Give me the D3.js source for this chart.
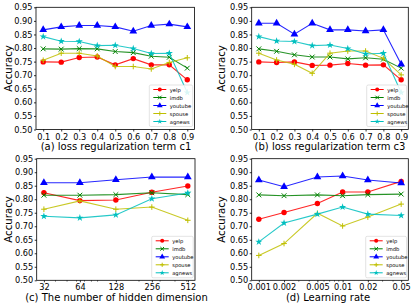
<!DOCTYPE html>
<html><head><meta charset="utf-8">
<script src="https://cdn.jsdelivr.net/npm/d3@7"></script>
<style>html,body{margin:0;padding:0;background:#fff}svg{display:block}</style>
</head><body>
<svg id="chart" width="419" height="307"></svg>
<script>
// ---------- data ----------
const seriesNames = ["yelp", "imdb", "youtube", "spouse", "agnews"];
const yTicks = [0.50, 0.55, 0.60, 0.65, 0.70, 0.75, 0.80, 0.85, 0.90, 0.95];

// (a) loss regularization term c1
const aX = [0.1, 0.2, 0.3, 0.4, 0.5, 0.6, 0.7, 0.8, 0.9];
const aYelp    = [0.749, 0.748, 0.765, 0.767, 0.738, 0.761, 0.738, 0.738, 0.683];
const aImdb    = [0.797, 0.796, 0.798, 0.797, 0.787, 0.783, 0.770, 0.766, 0.726];
const aYoutube = [0.867, 0.878, 0.883, 0.883, 0.878, 0.862, 0.883, 0.888, 0.878];
const aSpouse  = [0.755, 0.781, 0.781, 0.771, 0.732, 0.732, 0.723, 0.747, 0.764];
const aAgnews  = [0.842, 0.825, 0.824, 0.809, 0.810, 0.798, 0.780, 0.781, 0.636];

// (b) loss regularization term c3
const bX = [0.1, 0.2, 0.3, 0.4, 0.5, 0.6, 0.7, 0.8, 0.9];
const bYelp    = [0.749, 0.747, 0.749, 0.736, 0.737, 0.743, 0.737, 0.738, 0.683];
const bImdb    = [0.797, 0.788, 0.775, 0.767, 0.767, 0.760, 0.764, 0.759, 0.726];
const bYoutube = [0.891, 0.891, 0.851, 0.891, 0.867, 0.867, 0.863, 0.867, 0.740];
const bSpouse  = [0.781, 0.756, 0.740, 0.707, 0.781, 0.789, 0.789, 0.762, 0.701];
const bAgnews  = [0.842, 0.826, 0.824, 0.809, 0.811, 0.798, 0.778, 0.781, 0.636];

// (c) number of hidden dimension
const cX = [32, 64, 128, 256, 512];
const cYelp    = [0.824, 0.795, 0.797, 0.826, 0.849];
const cImdb    = [0.815, 0.815, 0.817, 0.824, 0.817];
const cYoutube = [0.861, 0.861, 0.872, 0.882, 0.882];
const cSpouse  = [0.763, 0.794, 0.763, 0.771, 0.722];
const cAgnews  = [0.737, 0.731, 0.742, 0.802, 0.823];

// (d) learning rate
const dX = [0.001, 0.002, 0.005, 0.01, 0.02, 0.05];
const dXLabels = ["0.001", "0.002", "0.005", "0.01", "0.02", "0.05"];
const dYelp    = [0.726, 0.751, 0.784, 0.827, 0.827, 0.866];
const dImdb    = [0.816, 0.813, 0.816, 0.813, 0.817, 0.819];
const dYoutube = [0.871, 0.846, 0.882, 0.886, 0.871, 0.860];
const dSpouse  = [0.592, 0.636, 0.748, 0.701, 0.734, 0.782];
const dAgnews  = [0.642, 0.712, 0.745, 0.771, 0.745, 0.740];

// ---------- styling ----------
const colors = {yelp: "#ff0000", imdb: "#008000", youtube: "#0000ff", spouse: "#bfbf00", agnews: "#00bfbf"};
const markers = {yelp: "circle", imdb: "x", youtube: "triangle", spouse: "plus", agnews: "star"};
const FONT = "DejaVu Sans, sans-serif";
const TICK_FS = 8.2;
const svg = d3.select("#chart");

function drawMarker(g, type, color, x, y, s) {
  if (type === "circle") {
    g.append("circle").attr("cx", x).attr("cy", y).attr("r", 2.7 * s).attr("fill", color);
  } else if (type === "triangle") {
    g.append("path").attr("d", d3.symbol(d3.symbolTriangle, 26 * s * s)()).attr("transform", `translate(${x},${y})`).attr("fill", color);
  } else if (type === "star") {
    g.append("path").attr("d", d3.symbol(d3.symbolStar, 16 * s * s)()).attr("transform", `translate(${x},${y})`).attr("fill", color);
  } else if (type === "x") {
    const r = 2.4 * s;
    g.append("path").attr("d", `M${x - r},${y - r}L${x + r},${y + r}M${x - r},${y + r}L${x + r},${y - r}`).attr("stroke", color).attr("stroke-width", 1).attr("fill", "none");
  } else if (type === "plus") {
    const r = 2.8 * s;
    g.append("path").attr("d", `M${x - r},${y}L${x + r},${y}M${x},${y - r}L${x},${y + r}`).attr("stroke", color).attr("stroke-width", 1).attr("fill", "none");
  }
}

function panel(cfg) {
  const {L, R, T, B} = cfg;
  const g = svg.append("g");
  const x = cfg.xScale.range([L, R]);
  const y = d3.scaleLinear().domain([0.50, 0.95]).range([B, T]);

  // lines + markers
  seriesNames.forEach((name, i) => {
    const vals = cfg.values[i];
    const pts = cfg.xs.map((xv, j) => [x(xv), y(vals[j])]);
    g.append("path").attr("d", d3.line()(pts)).attr("fill", "none")
      .attr("stroke", colors[name]).attr("stroke-width", 1.1).attr("stroke-opacity", 0.85);
    pts.forEach(p => drawMarker(g, markers[name], colors[name], p[0], p[1], 1));
  });

  // frame
  g.append("rect").attr("x", L).attr("y", T).attr("width", R - L).attr("height", B - T)
    .attr("fill", "none").attr("stroke", "#000").attr("stroke-width", 0.8);

  // y axis
  const ya = g.append("g").attr("transform", `translate(${L},0)`)
    .call(d3.axisLeft(y).tickValues(yTicks).tickFormat(d3.format(".2f")).tickSize(2).tickPadding(1.5));
  ya.select(".domain").remove();
  ya.selectAll("text").attr("font-family", FONT).attr("font-size", TICK_FS).attr("fill", "#000");
  ya.selectAll("line").attr("stroke", "#000").attr("stroke-width", 0.8);

  // x axis
  const xa = g.append("g").attr("transform", `translate(0,${B})`)
    .call(d3.axisBottom(x).tickValues(cfg.xs).tickFormat((d, i) => cfg.xLabels[i]).tickSize(2).tickPadding(2.2));
  xa.select(".domain").remove();
  xa.selectAll("text").attr("font-family", FONT).attr("font-size", TICK_FS).attr("fill", "#000");
  xa.selectAll("line").attr("stroke", "#000").attr("stroke-width", 0.8);
  if (cfg.minor) {
    g.append("g").selectAll("line").data(cfg.minor).join("line")
      .attr("x1", d => x(d)).attr("x2", d => x(d)).attr("y1", B).attr("y2", B + 1.3)
      .attr("stroke", "#000").attr("stroke-width", 0.6);
  }

  // y label
  g.append("text").attr("transform", `translate(${cfg.yLabelX},${(T + B) / 2}) rotate(-90)`)
    .attr("text-anchor", "middle").attr("dominant-baseline", "central")
    .attr("font-family", FONT).attr("font-size", 10.2).text("Accuracy");

  // title
  g.append("text").attr("x", cfg.titleX).attr("y", B + 20.5).attr("text-anchor", "middle")
    .attr("font-family", FONT).attr("font-size", 10).text(cfg.title);

  // legend
  const lx = cfg.legX, ly = cfg.legY, lw = R - 1.8 - lx, lh = 41.5;
  const lg = g.append("g");
  lg.append("rect").attr("x", lx).attr("y", ly).attr("width", lw).attr("height", lh)
    .attr("rx", 1.5).attr("fill", "#fff").attr("fill-opacity", 0.85).attr("stroke", "#d0d0d0").attr("stroke-width", 0.6);
  seriesNames.forEach((name, i) => {
    const yy = ly + 4.5 + i * 8;
    lg.append("line").attr("x1", lx + 4).attr("x2", lx + 17).attr("y1", yy).attr("y2", yy)
      .attr("stroke", colors[name]).attr("stroke-width", 1);
    drawMarker(lg, markers[name], colors[name], lx + 10.5, yy, 0.75);
    lg.append("text").attr("x", lx + 20.5).attr("y", yy).attr("dominant-baseline", "central")
      .attr("font-family", FONT).attr("font-size", 5.2).text(name);
  });
}

const fmt1 = d3.format(".1f");
panel({L: 36, R: 194.5, T: 7.3, B: 129.5, xScale: d3.scaleLinear().domain([0.06, 0.94]), xs: aX,
  xLabels: aX.map(fmt1), values: [aYelp, aImdb, aYoutube, aSpouse, aAgnews],
  title: "(a) loss regularization term c1", titleX: 116, yLabelX: 8.5, legX: 149.3, legY: 85});
panel({L: 251.7, R: 408.3, T: 7.3, B: 129.5, xScale: d3.scaleLinear().domain([0.06, 0.94]), xs: bX,
  xLabels: bX.map(fmt1), values: [bYelp, bImdb, bYoutube, bSpouse, bAgnews],
  title: "(b) loss regularization term c3", titleX: 330, yLabelX: 221.5, legX: 366.7, legY: 85});
panel({L: 36.7, R: 195, T: 158.7, B: 280.3, xScale: d3.scaleLog().base(2).domain([32 / Math.pow(2, 0.2), 512 * Math.pow(2, 0.2)]), xs: cX,
  xLabels: cX.map(String), values: [cYelp, cImdb, cYoutube, cSpouse, cAgnews],
  minor: [40, 50, 60, 70, 80, 90, 200, 300, 400, 500],
  title: "(c) The number of hidden dimension", titleX: 116.5, yLabelX: 8.5, legX: 151.7, legY: 236.3});
panel({L: 251.7, R: 408.3, T: 158.7, B: 280.3, xScale: d3.scaleLog().domain([0.001 / Math.pow(10, 0.085), 0.05 * Math.pow(10, 0.085)]), xs: dX,
  xLabels: dXLabels, values: [dYelp, dImdb, dYoutube, dSpouse, dAgnews],
  minor: [0.003, 0.004, 0.006, 0.007, 0.008, 0.009, 0.03, 0.04],
  title: "(d) Learning rate", titleX: 328, yLabelX: 221.5, legX: 365.7, legY: 236.3});
</script>
</body></html>
